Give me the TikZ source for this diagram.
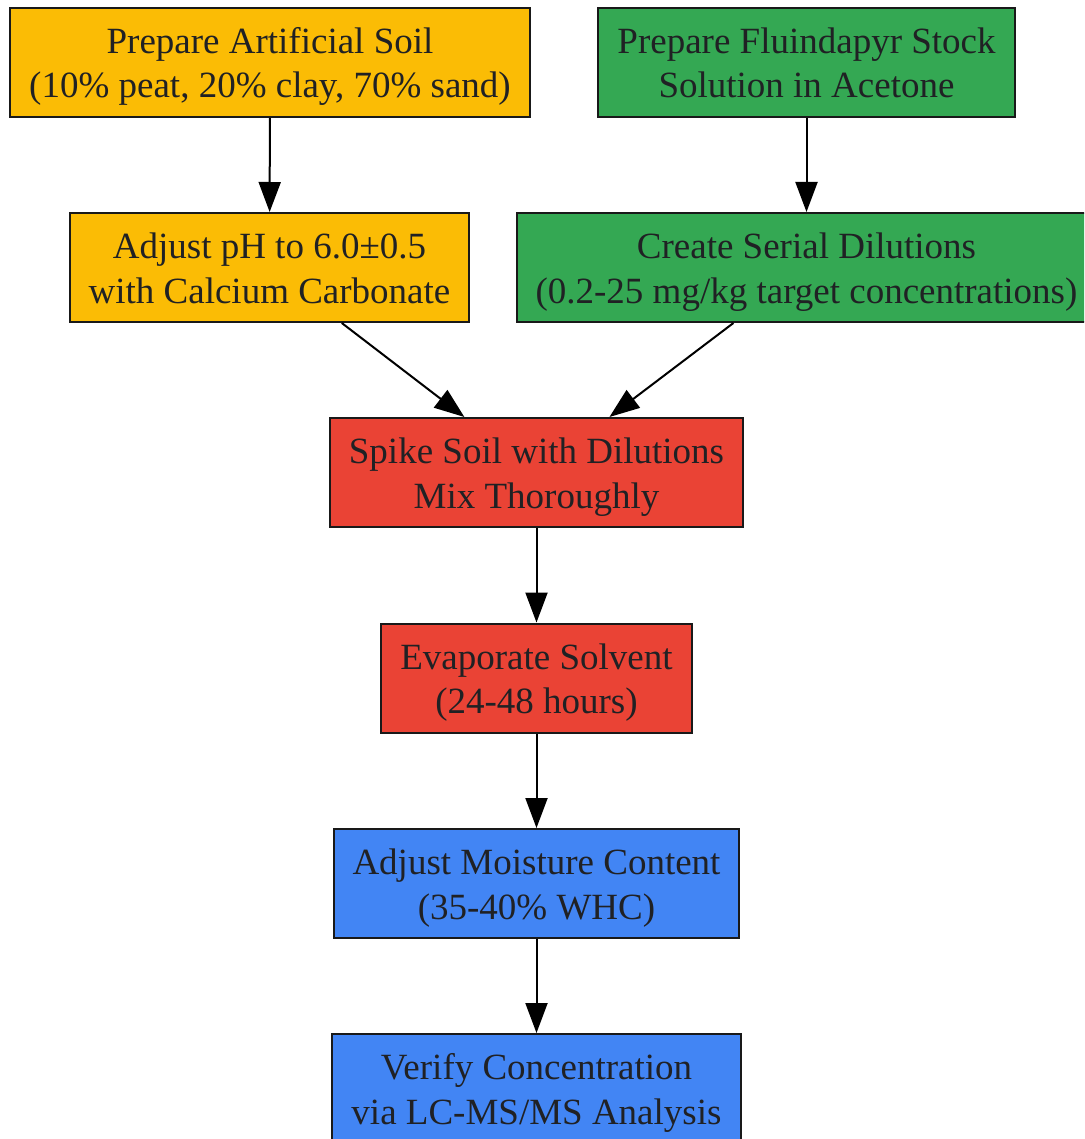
\documentclass[tikz,border=0pt]{standalone}
\usepackage{fontspec}
\setmainfont{Liberation Serif}
\usetikzlibrary{arrows.meta}
\definecolor{soilyellow}{HTML}{FBBC05}
\definecolor{stockgreen}{HTML}{34A853}
\definecolor{spikered}{HTML}{EA4335}
\definecolor{moistblue}{HTML}{4285F4}
\definecolor{textgray}{HTML}{202124}

\begin{document}
\begin{tikzpicture}[x=1pt,y=-1pt,
	box/.style={draw=black!90,line width=2pt,text=textgray,align=center,
		minimum height=109pt,inner xsep=19pt,inner ysep=0pt,
		text height=90pt,text depth=19pt,
		font=\fontsize{37}{44.4}\selectfont},
	>={Triangle[length=30pt,width=22pt]}]
				\clip (0,0) rectangle (1084,1139);
				\node[box,fill=soilyellow] (soil) at (270,62.5) {Prepare Artificial Soil\\(10\% peat, 20\% clay, 70\% sand)};
				\node[box,fill=stockgreen] (stock) at (806.5,62.5) {Prepare Fluindapyr Stock\\Solution in Acetone};
				\node[box,fill=soilyellow] (ph) at (269.5,267.5) {Adjust pH to 6.0±0.5\\with Calcium Carbonate};
				\node[box,fill=stockgreen] (dil) at (806.5,267.5) {Create Serial Dilutions\\(0.2-25 mg/kg target concentrations)};
				\node[box,fill=spikered] (spike) at (536.5,472.5) {Spike Soil with Dilutions\\Mix Thoroughly};
				\node[box,fill=spikered] (evap) at (536.5,678) {Evaporate Solvent\\(24-48 hours)};
				\node[box,fill=moistblue] (moist) at (536.5,883.5) {Adjust Moisture Content\\(35-40\% WHC)};
				\node[box,fill=moistblue] (verify) at (536.5,1088.5) {Verify Concentration\\via LC-MS/MS Analysis};
				\draw[->,line width=2pt] (soil) to (ph);
				\draw[->,line width=2pt] (stock) to (dil);
				\draw[->,line width=2pt] (ph) to (spike);
				\draw[->,line width=2pt] (dil) to (spike);
				\draw[->,line width=2pt] (spike) to (evap);
				\draw[->,line width=2pt] (evap) to (moist);
				\draw[->,line width=2pt] (moist) to (verify);
			\end{tikzpicture}
\end{document}
